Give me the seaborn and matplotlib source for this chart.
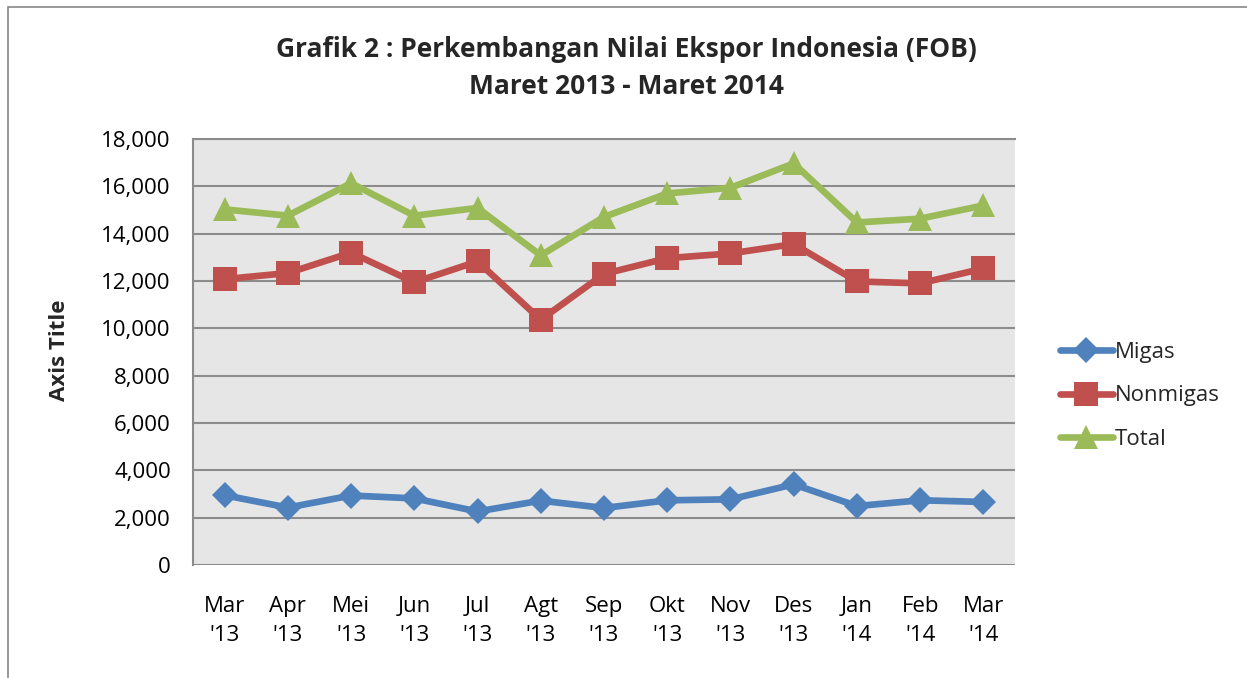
import matplotlib
matplotlib.use("Agg")
import matplotlib.pyplot as plt
from matplotlib.patches import Rectangle
from matplotlib.ticker import FuncFormatter
import seaborn as sns
import pandas as pd

months = ["Mar\n'13", "Apr\n'13", "Mei\n'13", "Jun\n'13", "Jul\n'13", "Agt\n'13", "Sep\n'13",
          "Okt\n'13", "Nov\n'13", "Des\n'13", "Jan\n'14", "Feb\n'14", "Mar\n'14"]
migas = [2946, 2426, 2935, 2814, 2262, 2720, 2409, 2733, 2775, 3407, 2491, 2734, 2664]
nonmigas = [12079, 12335, 13198, 11945, 12826, 10364, 12298, 12965, 13164, 13561, 11981, 11900, 12529]
total = [15025, 14761, 16133, 14759, 15088, 13084, 14707, 15698, 15939, 16968, 14472, 14634, 15193]

df = pd.DataFrame({"Bulan": months * 3,
                   "Nilai": migas + nonmigas + total,
                   "Seri": ["Migas"] * 13 + ["Nonmigas"] * 13 + ["Total"] * 13})

sns.set_style("white")
plt.rcParams["font.family"] = ["Open Sans", "DejaVu Sans"]

fig = plt.figure(figsize=(12.47, 6.78), dpi=100)
ax = fig.add_axes([193 / 1247, 113 / 678, 822 / 1247, 426 / 678])
ax.set_facecolor("#e6e6e6")

palette = {"Migas": "#4f81bd", "Nonmigas": "#c0504d", "Total": "#9bbb59"}
markers = {"Migas": "D", "Nonmigas": "s", "Total": "^"}
sns.lineplot(data=df, x="Bulan", y="Nilai", hue="Seri", style="Seri", palette=palette,
             markers=markers, dashes=False, sort=False, lw=4.8, markersize=17,
             markeredgewidth=0, ax=ax)
for line in ax.lines:
    if line.get_marker() == "D":
        line.set_markersize(13)

ax.set_ylim(0, 18000)
ax.set_xlim(-0.5, 12.5)
ax.set_yticks(range(0, 18001, 2000))
ax.yaxis.set_major_formatter(FuncFormatter(lambda v, p: f"{int(v):,}"))
ax.grid(axis="y", color="#8c8c8c", lw=1.5)
ax.set_axisbelow(True)
for s in ["right", "bottom"]:
    ax.spines[s].set_visible(False)
ax.spines["left"].set_color("#8c8c8c")
ax.spines["left"].set_linewidth(1.5)
ax.spines["top"].set_color("#8c8c8c")
ax.spines["top"].set_linewidth(1.5)
ax.tick_params(axis="both", length=0, labelsize=16, colors="black")
ax.tick_params(axis="y", pad=16)
ax.tick_params(axis="x", pad=22)
for t in ax.get_xticklabels():
    t.set_linespacing(1.5)
ax.set_xlabel("")
ax.set_ylabel("Axis Title", fontsize=16, fontweight="bold")
ax.yaxis.set_label_coords(-0.15, 0.505)

fig.text(626 / 1247, 1 - 68 / 678,
         "Grafik 2 : Perkembangan Nilai Ekspor Indonesia (FOB)\nMaret 2013 - Maret 2014",
         ha="center", va="center", fontsize=19, fontweight="bold", linespacing=1.45)

handles, labels = ax.get_legend_handles_labels()
ax.legend(handles, labels, loc="center left", bbox_to_anchor=(1.03, 0.397), frameon=False,
          fontsize=16, handlelength=2.4, labelspacing=1.0, handletextpad=0.1)

fig.patches.append(Rectangle((8 / 1247, -0.05), 1.2, 1 - 7 / 678 + 0.05, transform=fig.transFigure,
                             fill=False, edgecolor="#888888", lw=1.2))

fig.savefig("out.png", dpi=100)
